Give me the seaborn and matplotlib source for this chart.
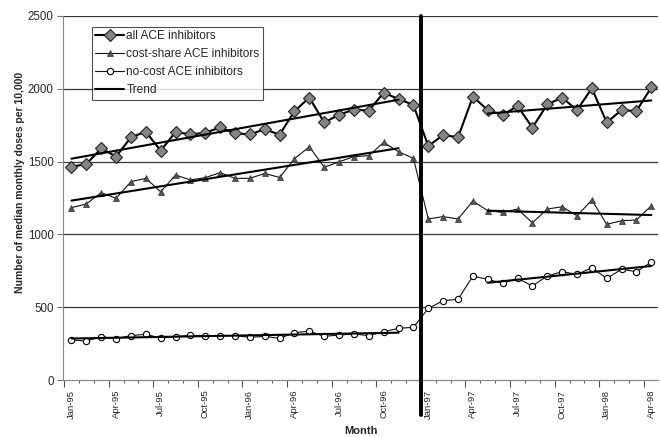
import numpy as np
import pandas as pd
import matplotlib as mpl
mpl.use('Agg')
import seaborn as sns
import matplotlib.pyplot as plt

# monthly series, Jan-95 .. Apr-98 (40 months)
all_ace = [1465, 1483, 1591, 1534, 1667, 1705, 1575, 1703, 1687, 1698,
           1735, 1694, 1687, 1722, 1685, 1847, 1939, 1769, 1822, 1857,
           1850, 1973, 1930, 1889, 1607, 1683, 1667, 1946, 1854, 1820,
           1882, 1733, 1893, 1939, 1854, 2003, 1769, 1854, 1847, 2010]
cost_share = [1184, 1209, 1287, 1248, 1362, 1385, 1293, 1408, 1374, 1390,
              1424, 1385, 1385, 1419, 1391, 1520, 1602, 1461, 1499, 1534,
              1541, 1632, 1568, 1522, 1106, 1122, 1106, 1229, 1163, 1151,
              1174, 1080, 1174, 1190, 1128, 1236, 1069, 1094, 1099, 1197]
no_cost = [275, 268, 298, 284, 305, 314, 288, 298, 307, 305,
           305, 305, 293, 300, 286, 325, 336, 300, 309, 316,
           305, 332, 355, 362, 492, 545, 554, 714, 691, 664,
           698, 646, 714, 744, 726, 771, 698, 760, 744, 810]

# trend segments (month index endpoints and values)
trend_x_pre = [0, 22]
trend_x_post = [28, 39]
all_trend_pre = [1520, 1925]
all_trend_post = [1830, 1920]
cost_trend_pre = [1232, 1592]
cost_trend_post = [1163, 1133]
nocost_trend_pre = [285, 325]
nocost_trend_post = [668, 783]

tick_pos = list(range(0, 40, 3))
tick_labels = ['Jan-95', 'Apr-95', 'Jul-95', 'Oct-95', 'Jan-96', 'Apr-96',
               'Jul-96', 'Oct-96', 'Jan-97', 'Apr-97', 'Jul-97', 'Oct-97',
               'Jan-98', 'Apr-98']
policy_month = 23.5

sns.set_style('white')
plt.rcParams['font.family'] = ['Liberation Sans', 'DejaVu Sans']

fig = plt.figure(figsize=(6.6, 4.37), dpi=100)
ax = fig.add_axes([0.0959, 0.1304, 0.9011, 0.833])

months = np.arange(len(all_ace))
df = pd.DataFrame({'month': months, 'all': all_ace,
                   'cost': cost_share, 'nocost': no_cost})

# horizontal gridlines
for yv in range(500, 2501, 500):
    ax.axhline(yv, color='#3a3a3a', lw=0.9, zorder=0)

sns.lineplot(data=df, x='month', y='all', ax=ax, color='black', lw=1.5,
             marker='D', markersize=5.8, markerfacecolor='#858585',
             markeredgecolor='#222222', markeredgewidth=0.8,
             label='all ACE inhibitors', zorder=3)
sns.lineplot(data=df, x='month', y='cost', ax=ax, color='#111111', lw=0.8,
             marker='^', markersize=4, markerfacecolor='#555555',
             markeredgecolor='#333333', markeredgewidth=0.5,
             label='cost-share ACE inhibitors', zorder=3)
sns.lineplot(data=df, x='month', y='nocost', ax=ax, color='#111111', lw=0.8,
             marker='o', markersize=4.5, markerfacecolor='white',
             markeredgecolor='black', markeredgewidth=0.8,
             label='no-cost ACE inhibitors', zorder=3)

# trend lines
first = True
for tx, ty in [(trend_x_pre, all_trend_pre), (trend_x_post, all_trend_post),
               (trend_x_pre, cost_trend_pre), (trend_x_post, cost_trend_post),
               (trend_x_pre, nocost_trend_pre),
               (trend_x_post, nocost_trend_post)]:
    sns.lineplot(x=tx, y=ty, ax=ax, color='black', lw=1.5, zorder=4,
                 label='Trend' if first else None)
    first = False

# policy change line, runs below the axis
ax.axvline(policy_month, ymin=-0.096, ymax=1, color='black', lw=2.8,
           clip_on=False, zorder=5)

ax.set_xlim(-0.55, 39.45)
ax.set_ylim(0, 2500)
ax.set_yticks(range(0, 2501, 500))
ax.tick_params(axis='y', left=True, length=4, width=0.8, color='#777777',
               labelsize=8.3, pad=3)

# labels centred on months, ticks on the month boundaries
ax.set_xticks(tick_pos, tick_labels, rotation=90, fontsize=6.8)
ax.tick_params(axis='x', length=0, pad=7)
secax = ax.secondary_xaxis('bottom')
secax.set_xticks(np.arange(-0.5, 40, 3), labels=[])
secax.set_xticks(np.arange(-0.5, 40, 1), minor=True)
secax.tick_params(which='major', length=5, width=0.8, color='#555555')
secax.tick_params(which='minor', length=2.5, width=0.7, color='#555555')
secax.spines['bottom'].set_color('#888888')

for side in ['top', 'right']:
    ax.spines[side].set_visible(False)
ax.spines['left'].set_color('#888888')
ax.spines['bottom'].set_color('#888888')

ax.set_xlabel('Month', fontsize=8, weight='bold')
ax.xaxis.set_label_coords(0.5, -0.125)
ax.set_ylabel('Number of median monthly doses per 10,000', fontsize=7.5,
              weight='bold')
ax.yaxis.set_label_coords(-0.064, 0.543)

leg = ax.legend(loc='upper left', bbox_to_anchor=(0.048, 0.97),
                borderaxespad=0, fontsize=8.6, frameon=True, fancybox=False,
                handlelength=2.4, handletextpad=0.2, labelspacing=0.5,
                borderpad=0.3)
leg.get_frame().set_edgecolor('#222222')
leg.get_frame().set_linewidth(0.8)

fig.savefig('out.png', dpi=100)
plt.close()
